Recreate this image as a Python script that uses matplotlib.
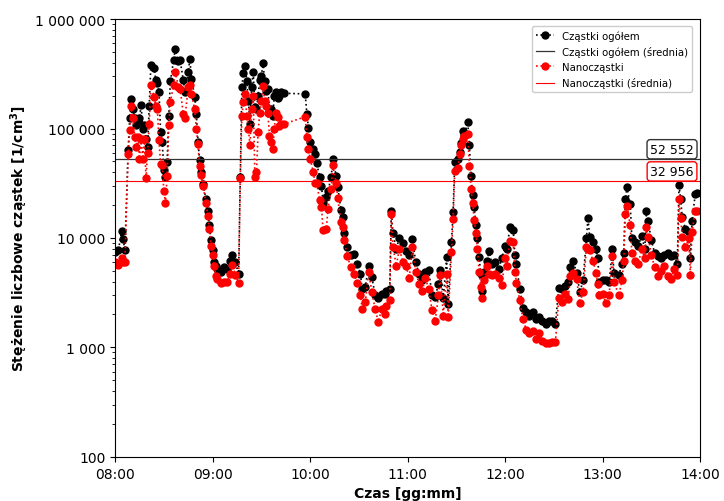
import matplotlib
matplotlib.use("Agg")
import matplotlib.pyplot as plt
from matplotlib.ticker import FuncFormatter, FixedLocator, LogLocator
import matplotlib.transforms as mtransforms

# minuty od 08:00
minuty = [0, 2, 4, 5, 6, 8, 9, 10, 11, 12, 13, 14, 15, 16, 17, 18, 19, 20, 21, 22,
          24, 25, 26, 27, 28, 29, 30, 31, 32, 33, 34, 36, 37, 39, 40, 42, 43, 45, 46, 47,
          49, 50, 51, 52, 53, 54, 56, 57, 58, 59, 60, 61, 62, 63, 65, 67, 69, 71, 72, 74,
          76, 77, 78, 79, 80, 81, 82, 83, 84, 85, 86, 87, 88, 89, 90, 91, 92, 93, 94, 95,
          96, 97, 98, 99, 100, 101, 102, 104, 117, 118, 119, 120, 122, 123, 124, 126, 127, 128, 130, 131,
          133, 134, 136, 137, 139, 140, 141, 143, 145, 147, 149, 151, 152, 154, 156, 158, 160, 162, 164, 166,
          167, 169, 170, 171, 173, 175, 177, 179, 181, 183, 185, 187, 189, 191, 193, 195, 197, 199, 200, 202,
          204, 205, 207, 208, 209, 211, 212, 213, 214, 215, 217, 218, 219, 220, 221, 222, 223, 224, 225, 226,
          227, 229, 230, 232, 234, 236, 238, 240, 241, 243, 245, 246, 247, 249, 251, 253, 255, 257, 259, 261,
          263, 265, 267, 269, 271, 273, 275, 277, 279, 280, 282, 284, 286, 288, 290, 291, 292, 294, 296, 297,
          298, 300, 302, 304, 306, 307, 310, 312, 313, 314, 315, 317, 318, 320, 322, 324, 326, 327, 328, 330,
          332, 334, 336, 338, 340, 342, 344, 346, 347, 348, 349, 351, 353, 354, 355, 357, 358]

ogolem = [7500, 7700, 11500, 9700, 7700, 63000, 125000, 185000, 150000, 125000, 107000, 115000, 125000, 163000, 99000, 107000, 80000, 68000, 160000, 380000,
          360000, 275000, 260000, 215000, 93000, 75000, 42000, 36000, 49000, 130000, 270000, 420000, 530000, 410000, 420000, 275000, 215000, 330000, 430000, 283000,
          195000, 135000, 75000, 52000, 40000, 31000, 22500, 17500, 13000, 9500, 7700, 6000, 5500, 5200, 4900, 5400, 5200, 6200, 7000, 6000,
          4700, 36000, 240000, 320000, 375000, 274000, 180000, 110000, 240000, 330000, 157000, 150000, 200000, 275000, 300000, 400000, 274000, 220000, 230000, 150000,
          150000, 130000, 200000, 215000, 190000, 200000, 215000, 210000, 207000, 135000, 102000, 75000, 65000, 58000, 48000, 36000, 30000, 21000, 23500, 27000,
          36000, 53000, 37000, 29000, 18000, 15500, 11000, 8300, 7000, 7200, 5800, 4700, 3400, 3600, 5600, 4400, 3000, 2800, 3100, 3100,
          3300, 3400, 17500, 11000, 8000, 10000, 9000, 7600, 7000, 9700, 6000, 4700, 4100, 4900, 5100, 3000, 2900, 3800, 5100, 2800,
          6700, 2500, 9200, 17200, 49000, 53000, 61000, 73000, 95000, 88000, 115000, 70000, 37000, 24500, 19000, 13000, 10000, 6700, 4700, 3300,
          4900, 6200, 7600, 5800, 6000, 5200, 6500, 8500, 7900, 12500, 11700, 7000, 5800, 3400, 2300, 2100, 1950, 2100, 1800, 1900,
          1750, 1650, 1750, 1750, 1650, 3500, 3400, 3650, 3940, 5400, 6100, 4800, 3200, 4100, 9900, 15200, 10300, 9200, 7900, 6500,
          3940, 4100, 4100, 3940, 7900, 4800, 4600, 5800, 7300, 22700, 29000, 20300, 9900, 9200, 8500, 10500, 7900, 17800, 14300, 9500,
          7300, 6800, 6500, 7000, 7300, 6800, 7000, 5800, 30500, 22700, 15500, 12000, 11300, 6500, 14300, 25000, 26000]

nano = [6000, 5700, 6500, 6000, 6000, 58000, 97000, 160000, 125000, 84000, 68000, 84000, 53000, 80000, 53000, 80000, 35000, 60000, 110000, 250000,
        195000, 160000, 150000, 78000, 47000, 46000, 27000, 21000, 37000, 107000, 175000, 250000, 330000, 240000, 230000, 135000, 125000, 240000, 250000, 205000,
        150000, 99000, 72000, 45000, 38000, 30000, 21000, 16000, 12000, 8500, 7000, 5500, 4500, 4200, 3900, 4000, 4000, 4700, 5700, 4600,
        3900, 35000, 131000, 175000, 207000, 131000, 99000, 70000, 150000, 200000, 36000, 40000, 93000, 138000, 180000, 245000, 180000, 160000, 138000, 86000,
        75000, 65000, 100000, 140000, 128000, 105000, 110000, 110000, 128000, 84000, 65000, 53000, 40000, 31500, 31500, 22000, 19000, 11700, 12100, 18500,
        28000, 46000, 32000, 23000, 14000, 12500, 9500, 6800, 5400, 4700, 3900, 3000, 2250, 2600, 4900, 3200, 2250, 1700, 2250, 2000,
        2400, 2700, 16500, 8300, 5600, 8000, 6000, 5600, 4300, 8200, 4900, 3800, 3300, 4300, 3400, 2200, 1750, 3000, 4600, 1950,
        4700, 1900, 7400, 15000, 41000, 44000, 59000, 70000, 80000, 85000, 90000, 45700, 28000, 21000, 14500, 11000, 7900, 4900, 3600, 2800,
        4100, 5600, 4700, 4600, 4700, 4300, 3700, 6500, 5600, 9400, 9200, 4900, 3900, 2700, 1800, 1450, 1350, 1400, 1200, 1350,
        1150, 1100, 1100, 1110, 1130, 2800, 2600, 3100, 2770, 4500, 4800, 4200, 2550, 3200, 8200, 7900, 7700, 6200, 4800, 3800,
        3000, 3100, 2550, 3000, 6800, 3940, 3000, 4100, 6100, 16600, 19500, 13000, 7300, 6200, 5800, 7900, 6500, 12500, 10300, 7000,
        5400, 4500, 5000, 5600, 4500, 4200, 5200, 4600, 22700, 15200, 10300, 8200, 9900, 4600, 11300, 17800, 17800]

srednia_ogolem = 52552
srednia_nano = 32956

godziny = [0, 60, 120, 180, 240, 300, 360]


def format_liczby(v, pos=None):
    return f"{v:,.0f}".replace(",", " ")


fig = plt.figure(figsize=(7.24, 5.02), dpi=100)
ax = fig.add_axes([0.159, 0.088, 0.808, 0.872])

ax.plot(minuty, ogolem, color="black", linestyle=":", marker="o", markersize=5,
        linewidth=1.2, label="Cząstki ogółem")
ax.axhline(srednia_ogolem, color="#333333", linewidth=0.9, label="Cząstki ogółem (średnia)")
ax.plot(minuty, nano, color="red", linestyle=":", marker="o", markersize=5,
        linewidth=1.2, label="Nanocząstki")
ax.axhline(srednia_nano, color="red", linewidth=0.8, label="Nanocząstki (średnia)")

# etykiety z wartościami średnich przy prawej krawędzi
trans = mtransforms.blended_transform_factory(ax.transAxes, ax.transData)
ax.text(0.952, srednia_ogolem * 1.23, format_liczby(srednia_ogolem), transform=trans,
        ha="center", va="center", fontsize=9,
        bbox=dict(boxstyle="round,pad=0.25", fc="white", ec="#333333", lw=1))
ax.text(0.952, srednia_nano * 1.23, format_liczby(srednia_nano), transform=trans,
        ha="center", va="center", fontsize=9,
        bbox=dict(boxstyle="round,pad=0.25", fc="white", ec="red", lw=1))

ax.set_yscale("log")
ax.set_ylim(100, 1000000)
ax.set_xlim(0, 360)
ax.yaxis.set_major_formatter(FuncFormatter(format_liczby))
ax.yaxis.set_minor_locator(LogLocator(base=10, subs=range(2, 10)))
ax.yaxis.set_minor_formatter(FuncFormatter(lambda v, p: ""))
ax.xaxis.set_major_locator(FixedLocator(godziny))
ax.xaxis.set_major_formatter(FuncFormatter(lambda v, p: f"{8 + int(v) // 60:02d}:{int(v) % 60:02d}"))
ax.tick_params(axis="both", labelsize=10)

ax.set_xlabel("Czas [gg:mm]", fontsize=10, fontweight="bold")
ax.set_ylabel(r"Stężenie liczbowe cząstek [1/cm$^\mathbf{3}$]", fontsize=10, fontweight="bold")

ax.legend(loc="upper right", fontsize=7.3, framealpha=1, edgecolor="#cccccc",
          handlelength=1.8, bbox_to_anchor=(0.995, 0.995))

fig.savefig("out.png", dpi=100)
